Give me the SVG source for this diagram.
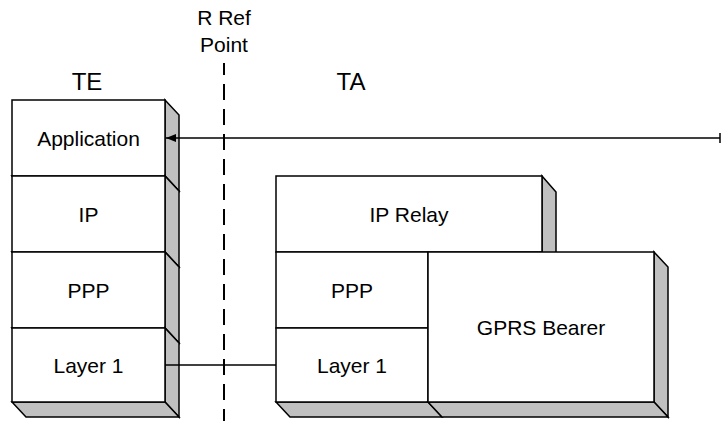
<svg xmlns="http://www.w3.org/2000/svg" width="721" height="421" viewBox="0 0 721 421">
<style>
.f{fill:#ffffff;stroke:#000;stroke-width:1.5}
.s{fill:#c0c0c0;stroke:#000;stroke-width:1.5;stroke-linejoin:miter}
text{font-family:"Liberation Sans",Arial,sans-serif;font-size:21px;fill:#000;text-anchor:middle}
.lbl{font-size:24px}
.c{stroke:#000;stroke-width:1.5;fill:none}
</style>
<defs>
<marker id="ah" markerWidth="10" markerHeight="8" refX="10" refY="4" orient="auto-start-reverse" markerUnits="userSpaceOnUse">
<path d="M0,0 L10,4 L0,8 Z" fill="#000"/>
</marker>
</defs>
<rect width="721" height="421" fill="#fff"/>
<text x="224" y="25">R Ref</text>
<text x="224" y="52">Point</text>
<text class="lbl" x="87" y="90">TE</text>
<text class="lbl" x="351" y="90">TA</text>
<line x1="224" y1="63" x2="224" y2="421" stroke="#000" stroke-width="2" stroke-dasharray="16 9" stroke-dashoffset="4"/>

<g id="te-application">
<polygon class="s" points="165,100 179,115 179,191 165,176"/>
<polygon class="s" points="12,176 26,191 179,191 165,176"/>
<rect class="f" x="12" y="100" width="153" height="76"/>
<text x="88.5" y="145.5">Application</text>
</g>
<g id="te-ip">
<polygon class="s" points="165,176 179,191 179,267 165,252"/>
<polygon class="s" points="12,252 26,267 179,267 165,252"/>
<rect class="f" x="12" y="176" width="153" height="76"/>
<text x="88.5" y="221.5">IP</text>
</g>
<g id="te-ppp">
<polygon class="s" points="165,252 179,267 179,343 165,328"/>
<polygon class="s" points="12,328 26,343 179,343 165,328"/>
<rect class="f" x="12" y="252" width="153" height="76"/>
<text x="88.5" y="297.5">PPP</text>
</g>
<g id="te-layer1">
<polygon class="s" points="165,328 179,343 179,417 165,402"/>
<polygon class="s" points="12,402 26,417 179,417 165,402"/>
<rect class="f" x="12" y="328" width="153" height="74"/>
<text x="88.5" y="372.5">Layer 1</text>
</g>

<g id="ta-iprelay">
<polygon class="s" points="542,176 556,192 556,267 542,252"/>
<rect class="f" x="276" y="176" width="266" height="76"/>
<text x="409" y="221.5">IP Relay</text>
</g>
<g id="ta-ppp">
<rect class="f" x="276" y="252" width="152" height="76"/>
<text x="352" y="297.5">PPP</text>
</g>
<g id="ta-layer1">
<polygon class="s" points="276,402 290,417 442,417 428,402"/>
<rect class="f" x="276" y="328" width="152" height="74"/>
<text x="352" y="372.5">Layer 1</text>
</g>
<g id="ta-gprs">
<polygon class="s" points="654,252 668,267 668,417 654,402"/>
<polygon class="s" points="428,402 442,417 668,417 654,402"/>
<rect class="f" x="428" y="252" width="226" height="150"/>
<text x="541" y="334.5">GPRS Bearer</text>
</g>

<g id="connectors">
<line class="c" x1="720" y1="138" x2="166" y2="138" marker-end="url(#ah)"/>
<line class="c" x1="720" y1="133" x2="720" y2="143"/>
<line class="c" x1="165" y1="365" x2="276" y2="365"/>
</g>
</svg>
